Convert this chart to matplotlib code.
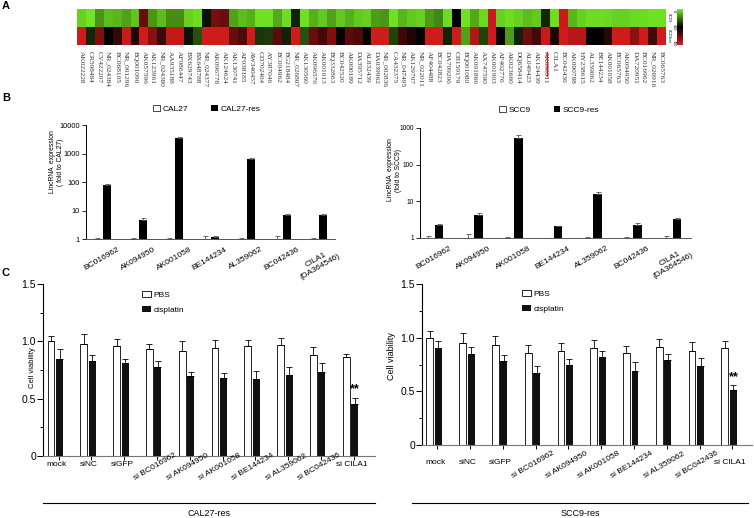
import numpy as np
import matplotlib
matplotlib.use("Agg")
import matplotlib.pyplot as plt
from matplotlib.colors import LinearSegmentedColormap
from matplotlib.lines import Line2D
from matplotlib.patches import Patch

plt.rcParams['font.family'] = ['Liberation Sans', 'DejaVu Sans']

# ---- panel A data (heatmap) ----
heat_labels = ["AK022228", "CR598484", "CV422207", "NR_024384", "BC068105", "NR_001296",
               "BQ001090", "AK057596", "AK123961", "NR_024380", "AA935188", "AF086447",
               "BX629743", "BX648788", "NR_024377", "AK096778", "AK124624", "AK130741",
               "AF038185", "AW340457", "CD702404", "AY387046", "BC004962", "BG218484",
               "NR_026807", "AK130560", "AK096576", "AK001013", "BQ332863", "BC042520",
               "AK000189", "DA395712", "AL832439", "DA039962", "NR_002836", "CA432375",
               "NR_047495", "AK129707", "NR_022011", "AF404488", "BC042823", "DA709206",
               "CB159179", "BQ001080", "AK091866", "AX747590", "AK001903", "AF402776",
               "AK023660", "DQ658414", "AL049423", "AK124439", "AK098511", "CILA1",
               "BC042436", "AK090788", "HY238615", "AL359062", "BE144234", "AK001058",
               "BC065763", "AK094950", "DA720951", "BC016962", "NR_026916", "BC065763"]
scc9_vals = [40, 10, 130, 70, 80, 110, 60, 520, 130, 70, 140, 140, 40, 20, 320, 540, 520,
             110, 70, 90, 15, 15, 100, 20, 300, 15, 90, 50, 110, 50, 90, 50, 40, 120, 130,
             15, 80, 50, 40, 120, 150, 20, 350, 15, 100, 30, 680, 40, 20, 40, 70, 50, 290,
             20, 680, 80, 40, 20, 20, 30, 40, 40, 25, 20, 15, 15]
scc9res_vals = [690, 290, 560, 360, 440, 680, 400, 690, 570, 450, 670, 670, 320, 230, 690,
                690, 690, 520, 480, 690, 270, 260, 500, 300, 690, 230, 520, 460, 560, 370,
                500, 480, 340, 690, 690, 250, 450, 400, 360, 690, 690, 300, 690, 110, 640,
                250, 690, 370, 120, 300, 530, 460, 680, 400, 690, 650, 650, 360, 355, 420,
                690, 690, 580, 690, 460, 690]
heat_rows = ["SCC9", "SCC9res"]

# ---- panel B data ----
b_genes = ["BC016962", "AK094950", "AK001058", "BE144234", "AL359062", "BC042436",
           "CILA1\n(DA364546)"]
cal27 = [1.0, 1.0, 1.0, 1.0, 1.0, 1.0, 1.0]
cal27_err = [0.1, 0.05, 0.05, 0.3, 0.05, 0.25, 0.08]
cal27res = [80, 4.5, 3500, 1.2, 650, 7, 7]
cal27res_err = [8, 1.1, 380, 0.1, 60, 0.8, 0.8]
scc9 = [1.0, 1.0, 1.0, 1.0, 1.0, 1.0, 1.0]
scc9_err = [0.12, 0.3, 0.05, 0.03, 0.05, 0.06, 0.12]
scc9res = [2.2, 4.3, 550, 2.1, 16, 2.3, 3.2]
scc9res_err = [0.25, 0.45, 90, 0.08, 1.5, 0.2, 0.35]

# ---- panel C data ----
c_groups = ["mock", "siNC", "siGFP", "si BC016962", "si AK094950", "si AK001058",
            "si BE144234", "si AL359062", "si BC042436", "si CILA1"]
cal_pbs = [1.0, 0.98, 0.96, 0.93, 0.92, 0.94, 0.96, 0.97, 0.88, 0.86]
cal_pbs_err = [0.05, 0.08, 0.06, 0.05, 0.08, 0.07, 0.05, 0.06, 0.07, 0.03]
cal_cis = [0.85, 0.83, 0.81, 0.78, 0.70, 0.68, 0.67, 0.71, 0.73, 0.45]
cal_cis_err = [0.08, 0.05, 0.04, 0.05, 0.03, 0.04, 0.07, 0.07, 0.08, 0.06]
scc_pbs = [1.0, 0.95, 0.93, 0.86, 0.88, 0.90, 0.86, 0.91, 0.88, 0.90]
scc_pbs_err = [0.06, 0.09, 0.09, 0.07, 0.07, 0.08, 0.06, 0.08, 0.08, 0.07]
scc_cis = [0.90, 0.85, 0.78, 0.67, 0.75, 0.82, 0.69, 0.79, 0.74, 0.51]
scc_cis_err = [0.07, 0.06, 0.06, 0.07, 0.05, 0.06, 0.08, 0.06, 0.07, 0.05]

W, H = 754, 518


def box(l, t, r, b):
    return [l / W, 1 - b / H, (r - l) / W, (b - t) / H]


def fx(x):
    return x / W


def fy(y):
    return 1 - y / H


fig = plt.figure(figsize=(W / 100, H / 100), dpi=100)

# panel letters
for letter, y in [("A", 6), ("B", 98), ("C", 273)]:
    fig.text(fx(2), fy(y), letter, fontsize=8, fontweight="bold", va="center", ha="left")

# ================= A: heatmap =================
cmap = LinearSegmentedColormap.from_list(
    "gkr", [(0.46, 0.92, 0.14), (0.0, 0.0, 0.0), (0.83, 0.11, 0.11)])
ax = fig.add_axes(box(77, 9, 666, 45))
ax.imshow(np.array([scc9_vals, scc9res_vals]), cmap=cmap, vmin=0, vmax=700,
          aspect="auto", interpolation="nearest")
ax.set_xticks(range(len(heat_labels)))
ax.set_xticklabels(heat_labels, rotation=-90, fontsize=5.3, family="Liberation Serif",
                   color="#333333")
ax.tick_params(length=0, pad=4)
ax.set_yticks([])
for s in ax.spines.values():
    s.set_visible(False)

# row labels and colour scale
fig.text(fx(669), fy(18), heat_rows[0], rotation=-90, fontsize=2.5, ha="center", va="center")
fig.text(fx(669), fy(36), heat_rows[1], rotation=-90, fontsize=2.5, ha="center", va="center")
cax = fig.add_axes(box(677, 9, 683, 45))
cax.imshow(np.linspace(0, 700, 50).reshape(-1, 1), cmap=cmap, aspect="auto")
cax.set_xticks([])
cax.set_yticks([])
for s in cax.spines.values():
    s.set_visible(False)
for lab, y in [("0", 11), ("350", 27), ("700", 43)]:
    fig.text(fx(673.5), fy(y), lab, rotation=-90, fontsize=2.8, ha="center", va="center")

fig.add_artist(Line2D([fx(546.5), fx(546.5)], [fy(52), fy(76)], color="#d42020", lw=1.0))


# ================= B: lincRNA expression =================
def expr_panel(rect, xlim, ytop, w_vals, w_err, b_vals, b_err, tick_size):
    ax = fig.add_axes(rect)
    x = np.arange(len(b_genes))
    ax.set_yscale("log")
    ax.bar(x - 0.14, np.array(w_vals) - 1, bottom=1, width=0.22, color="white",
           edgecolor="black", lw=0.5)
    ax.bar(x + 0.14, np.array(b_vals) - 1, bottom=1, width=0.22, color="black")
    ax.errorbar(x - 0.14, w_vals, yerr=[np.zeros(len(x)), w_err], fmt="none",
                ecolor="#555555", elinewidth=0.6, capsize=1.8, capthick=0.6)
    ax.errorbar(x + 0.14, b_vals, yerr=[np.zeros(len(x)), b_err], fmt="none",
                ecolor="#555555", elinewidth=0.6, capsize=1.8, capthick=0.6)
    ax.set_ylim(1, ytop)
    ax.set_xlim(*xlim)
    ticks = [10 ** k for k in range(int(round(np.log10(ytop))) + 1)]
    ax.set_yticks(ticks)
    ax.set_yticklabels([str(t) for t in ticks], fontsize=tick_size)
    ax.minorticks_off()
    ax.set_xticks(x)
    ax.set_xticklabels(b_genes, rotation=30, ha="center", va="top", fontsize=6)
    ax.tick_params(axis="x", length=0, pad=5)
    ax.tick_params(axis="y", length=3, width=0.6, pad=1.5)
    ax.spines["top"].set_visible(False)
    ax.spines["right"].set_visible(False)
    ax.spines["left"].set_linewidth(0.7)
    ax.spines["bottom"].set_linewidth(0.7)
    ax.spines["bottom"].set_color("#555555")
    return ax


expr_panel(box(86, 125, 335, 239), (-0.44, 6.47), 10000, cal27, cal27_err, cal27res,
           cal27res_err, 5.3)
expr_panel(box(420, 128, 691, 238), (-0.34, 6.49), 1000, scc9, scc9_err, scc9res,
           scc9res_err, 4.8)

fig.text(fx(57), fy(162), "LincRNA  expression\n( fold to CAL27)", rotation=90,
         fontsize=4.9, ha="center", va="center", linespacing=1.2)
fig.text(fx(394), fy(170), "LincRNA  expression\n(fold to SCC9)", rotation=90,
         fontsize=4.9, ha="center", va="center", linespacing=1.2)

leg_kw = dict(ncol=2, frameon=False, fontsize=6, handlelength=0.8, handleheight=0.8,
              handletextpad=0.3, columnspacing=2.8, borderaxespad=0, borderpad=0)
fig.legend([Patch(facecolor="white", edgecolor="black", lw=0.5), Patch(facecolor="black")],
           ["CAL27", "CAL27-res"], loc="center left",
           bbox_to_anchor=(fx(153), fy(109)), **leg_kw)
fig.legend([Patch(facecolor="white", edgecolor="black", lw=0.5), Patch(facecolor="black")],
           ["SCC9", "SCC9-res"], loc="center left",
           bbox_to_anchor=(fx(499), fy(110)), **leg_kw)


# ================= C: cell viability =================
def viab_panel(rect, xlim, pbs, pbs_err, cis, cis_err, legend_xy, group_name, line_x,
               ylab_xy, ylab_size, lab_y):
    ax = fig.add_axes(rect)
    x = np.arange(len(c_groups))
    ax.bar(x - 0.13, pbs, width=0.21, color="white", edgecolor="black", lw=0.6)
    ax.bar(x + 0.13, cis, width=0.21, color="#111111", label="cisplatin")
    ax.errorbar(x - 0.13, pbs, yerr=[np.zeros(len(x)), pbs_err], fmt="none",
                ecolor="black", elinewidth=0.6, capsize=2, capthick=0.6)
    ax.errorbar(x + 0.13, cis, yerr=[np.zeros(len(x)), cis_err], fmt="none",
                ecolor="black", elinewidth=0.6, capsize=2, capthick=0.6)
    ax.text(x[-1] + 0.13, cis[-1] + cis_err[-1] + 0.07, "**", fontsize=9, ha="center",
            va="center", fontweight="bold")
    ax.set_ylim(0, 1.5)
    ax.set_xlim(*xlim)
    ax.set_yticks([0, 0.5, 1.0, 1.5])
    ax.set_yticklabels(["0", "0.5", "1.0", "1.5"], fontsize=7.5)
    ax.set_yticks([0.25, 0.75, 1.25], minor=True)
    ax.tick_params(axis="y", which="major", length=4, width=0.7, pad=1)
    ax.tick_params(axis="y", which="minor", length=2.5, width=0.7)
    ax.set_xticks(x + 0.1)
    ax.set_xticklabels([])
    ax.tick_params(axis="x", length=3, width=0.7)
    # group names below the axis, the long ones slanted
    for xi, name in zip(x, c_groups):
        slanted = name.startswith("si ") and name != "si CILA1"
        ax.annotate(name, xy=(xi + 0.03, fy(lab_y + 2 if slanted else lab_y)),
                    xycoords=("data", "figure fraction"),
                    fontsize=6, ha="center", va="center",
                    rotation=30 if slanted else 0, rotation_mode="anchor",
                    annotation_clip=False)
    ax.spines["top"].set_visible(False)
    ax.spines["right"].set_visible(False)
    ax.spines["left"].set_linewidth(0.8)
    ax.spines["bottom"].set_linewidth(0.8)
    ax.spines["bottom"].set_color("#777777")
    fig.legend([Patch(facecolor="white", edgecolor="black", lw=0.6),
                Patch(facecolor="#111111")], ["PBS", "cisplatin"],
               loc="upper left", bbox_to_anchor=legend_xy, frameon=False, fontsize=6,
               handlelength=1.1, handleheight=0.7, handletextpad=0.3, labelspacing=0.9,
               borderaxespad=0, borderpad=0)
    fig.add_artist(Line2D([fx(line_x[0]), fx(line_x[1])], [fy(503), fy(503)],
                          color="black", lw=0.8))
    fig.text(fx((line_x[0] + line_x[1]) / 2), fy(514), group_name, fontsize=6.5,
             ha="center", va="center")
    fig.text(fx(ylab_xy[0]), fy(ylab_xy[1]), "Cell viability", rotation=90,
             fontsize=ylab_size, ha="center", va="center")


viab_panel(box(43, 284, 375, 456), (-0.375, 9.75), cal_pbs, cal_pbs_err, cal_cis,
           cal_cis_err, (fx(142), fy(291)), "CAL27-res", (43, 375), (33, 368), 5.5, 465)
viab_panel(box(422, 284, 752, 445), (-0.37, 9.7), scc_pbs, scc_pbs_err, scc_cis,
           scc_cis_err, (fx(522), fy(290)), "SCC9-res", (412, 748), (392, 356), 6.5, 463)

fig.savefig("out.png", dpi=100)
